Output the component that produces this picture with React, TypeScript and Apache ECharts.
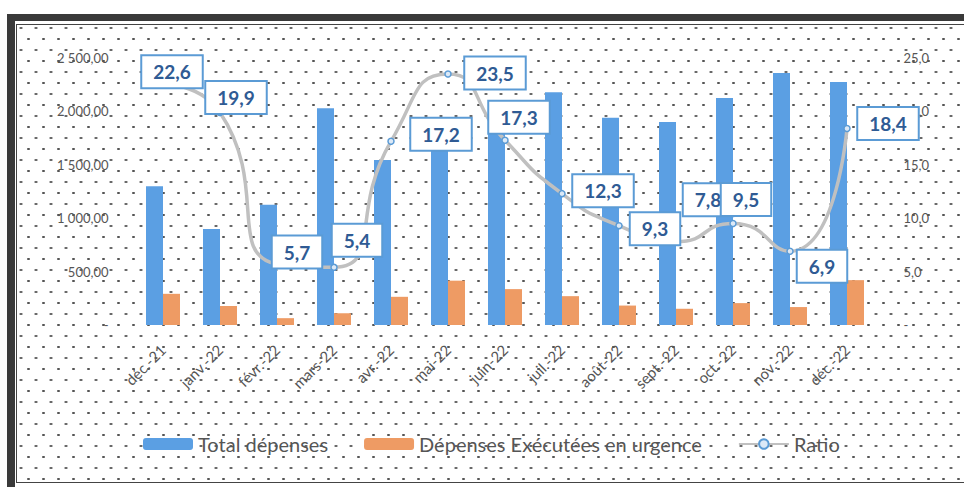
import React, { useEffect, useRef } from "react";
import * as echarts from "echarts";

const categories = ["déc.-21", "janv.-22", "févr.-22", "mars-22", "avr.-22", "mai-22", "juin-22", "juil.-22", "août-22", "sept.-22", "oct.-22", "nov.-22", "déc.-22"];
const totalDepenses = [1300, 900, 1125, 2030, 1545, 1790, 1940, 2180, 1940, 1900, 2125, 2360, 2275];
const depensesUrgence = [292, 178, 64, 110, 264, 415, 336, 270, 182, 152, 205, 168, 420];
const ratio = [22.6, 19.9, 5.7, 5.4, 17.2, 23.5, 17.3, 12.3, 9.3, 7.8, 9.5, 6.9, 18.4];
const ratioLabelOffsets = [[9, -12], [16, -15], [20, -12], [23, -27], [50, -7], [47, -1], [14, -23], [41, -3], [36, 3], [32, -42], [13, -24], [32, 15], [41, -5]];

const seriesNames = ["Total dépenses", "Dépenses Exécutées en urgence", "Ratio"];

const FONT = "Lato, 'Open Sans', sans-serif";
const GREY = "#555555";

function fmtLeft(v: number): string {
  if (v === 0) return "-";
  const fixed = v.toFixed(2);
  const [intPart, dec] = fixed.split(".");
  const withSpaces = intPart.replace(/\B(?=(\d{3})+(?!\d))/g, " ");
  return withSpaces + "," + dec;
}
function fmtRight(v: number): string {
  if (v === 0) return "-";
  return v.toFixed(1).replace(".", ",");
}

export default function App() {
  const ref = useRef<HTMLDivElement>(null);
  useEffect(() => {
    if (!ref.current) return;
    const chart = echarts.init(ref.current, undefined, { renderer: "svg" });
    chart.setOption({
      animation: false,
      backgroundColor: "transparent",
      textStyle: { fontFamily: FONT },
      grid: { left: 134.5, right: 88.5, top: 58, bottom: 162, containLabel: false },
      legend: {
        left: 138,
        top: 429,
        itemGap: 36,
        itemWidth: 50,
        itemHeight: 12,
        textStyle: { color: GREY, fontSize: 20, fontFamily: FONT },
        data: seriesNames,
      },
      xAxis: {
        type: "category",
        data: categories,
        axisLine: { show: false },
        axisTick: { show: false },
        axisLabel: { rotate: 45, color: GREY, fontSize: 15, margin: 22, interval: 0 },
      },
      yAxis: [
        {
          type: "value",
          min: 0,
          max: 2500,
          interval: 500,
          splitLine: { show: false },
          axisLine: { show: false },
          axisTick: { show: false },
          axisLabel: { color: GREY, fontSize: 13, margin: 26, formatter: fmtLeft },
        },
        {
          type: "value",
          min: 0,
          max: 25,
          interval: 5,
          splitLine: { show: false },
          axisLine: { show: false },
          axisTick: { show: false },
          axisLabel: { color: GREY, fontSize: 13, margin: 28, formatter: fmtRight },
        },
      ],
      series: [
        {
          name: seriesNames[0],
          type: "bar",
          data: totalDepenses,
          barWidth: 17,
          barGap: "0%",
          itemStyle: { color: "#5B9FE3" },
        },
        {
          name: seriesNames[1],
          type: "bar",
          data: depensesUrgence,
          barWidth: 17,
          itemStyle: { color: "#EE9B64" },
        },
        {
          name: seriesNames[2],
          type: "line",
          yAxisIndex: 1,
          smooth: 0.6,
          z: 5,
          symbol: "circle",
          symbolSize: 6,
          lineStyle: { color: "#C0C0C0", width: 3.5 },
          itemStyle: { color: "#DCE9F7", borderColor: "#5B9BD5", borderWidth: 1.5 },
          data: ratio.map((v, i) => ({
            value: v,
            label: { offset: ratioLabelOffsets[i] },
          })),
          label: {
            show: true,
            position: "inside",
            formatter: (p: any) => fmtRight(p.value),
            color: "#2F5B94",
            fontSize: 19,
            fontWeight: "bold",
            fontFamily: FONT,
            backgroundColor: "#FFFFFF",
            borderColor: "#5B9BD5",
            borderWidth: 2,
            padding: [6, 11],
          },
        },
      ],
    });
    return () => chart.dispose();
  }, []);

  const dots: React.CSSProperties = {
    position: "absolute",
    left: 18,
    top: 26,
    right: 0,
    bottom: 6,
    backgroundColor: "#FFFFFF",
    backgroundImage:
      "radial-gradient(circle, #555 1px, transparent 1.5px), radial-gradient(circle, #555 1px, transparent 1.5px)",
    backgroundSize: "15px 22px, 15px 22px",
    backgroundPosition: "3px 2px, 10.5px 13px",
  };

  return (
    <div style={{ position: "absolute", left: 0, top: 0, width: 964, height: 487, background: "#fff", overflow: "hidden" }}>
      <div style={{ position: "absolute", left: 7, top: 14, width: 980, height: 480, boxSizing: "border-box", borderTop: "7px solid #3a3a3a", borderLeft: "8px solid #3a3a3a", borderBottom: "5px solid #3a3a3a" }} />
      <div style={{ position: "absolute", left: 16, top: 24, width: 970, height: 459, boxSizing: "border-box", border: "1.5px solid #444" }} />
      <div style={dots} />
      <div ref={ref} style={{ position: "absolute", left: 0, top: 0, width: 964, height: 487 }} />
    </div>
  );
}
